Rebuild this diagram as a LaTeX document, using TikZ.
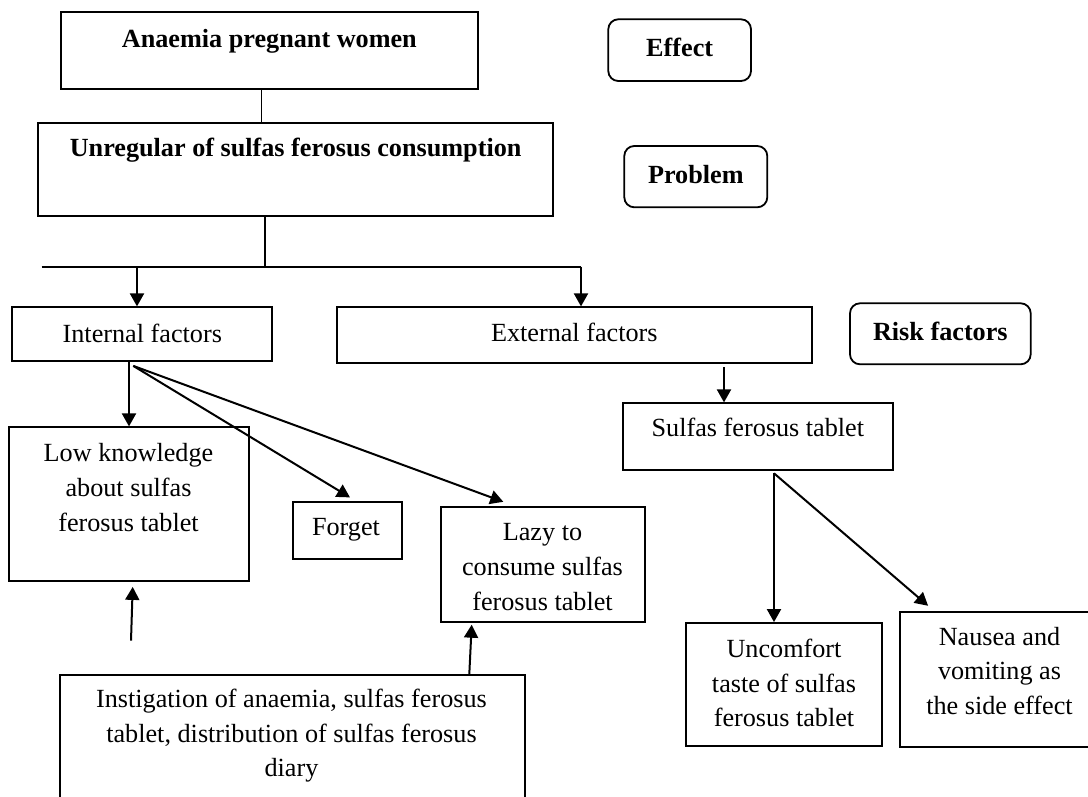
\documentclass[tikz,border=0pt]{standalone}
\usepackage{fontspec}
\setmainfont{Liberation Serif}
\usetikzlibrary{arrows.meta}
\begin{document}
\begin{tikzpicture}[x=1pt,y=-1pt,
  box/.style={draw, line width=1.8pt, inner sep=0pt},
  rbox/.style={box, rounded corners=10pt},
  txt/.style={inner sep=0pt, anchor=base, font=\fontsize{26.2pt}{34.7pt}\selectfont},
  btxt/.style={txt, font=\fontsize{26.2pt}{34.7pt}\selectfont\bfseries},
  link/.style={line width=1.6pt},
  arr/.style={line width=2pt, -{Triangle[length=13pt,width=14pt]}}]
\path[use as bounding box, fill=white] (0,0) rectangle (1088,797);
\clip (0,0) rectangle (1088,797);

% boxes
\node[box, minimum width=416.7pt, minimum height=77.3pt] (anaemia) at (269.35,50.35) {};
\node[box, minimum width=515.3pt, minimum height=93.6pt] (unregular) at (295.65,169.5) {};
\node[rbox, minimum width=142.7pt, minimum height=61.7pt] (effect) at (679.65,50.15) {};
\node[rbox, minimum width=143pt, minimum height=61.3pt] (problem) at (695.8,176.65) {};
\node[box, minimum width=260pt, minimum height=54pt] (internal) at (142.3,334.3) {};
\node[box, minimum width=475.2pt, minimum height=55.4pt] (external) at (574.3,335) {};
\node[rbox, minimum width=180.7pt, minimum height=61pt] (risk) at (940.35,333.8) {};
\node[box, minimum width=240pt, minimum height=153.7pt] (lowk) at (129,504.15) {};
\node[box, minimum width=108.4pt, minimum height=57pt] (forget) at (347.5,530.8) {};
\node[box, minimum width=204pt, minimum height=115.3pt] (lazy) at (543,564.65) {};
\node[box, minimum width=270.3pt, minimum height=66.7pt] (sulfas) at (757.85,436.65) {};
\node[box, minimum width=196.4pt, minimum height=123pt] (uncomf) at (784,684.5) {};
\node[box, minimum width=200pt, minimum height=135pt] (nausea) at (1000,679.2) {};
\node[box, minimum width=464.6pt, minimum height=155pt] (instig) at (292.3,752.5) {};

% texts
\node[btxt] (anaemiaT) at (269.35,47.7) {Anaemia pregnant women};
\node[btxt] (unregularT) at (295.65,156.5) {Unregular of sulfas ferosus consumption};
\node[btxt] (effectT) at (679.65,56.7) {Effect};
\node[btxt] (problemT) at (695.8,183.3) {Problem};
\node[btxt] (riskT) at (940.35,340.7) {Risk factors};
\node[txt] (internalT) at (142.3,342.3) {Internal factors};
\node[txt] (externalT) at (574.3,341) {External factors};
\node[txt] (sulfasT) at (757.85,436.7) {Sulfas ferosus tablet};
\node[txt] (forgetT) at (346,535.9) {Forget};
\node[txt] (lowkT) at (128.5,461.7) {\begin{tabular}[t]{@{}c@{}}Low knowledge\\about sulfas\\ferosus tablet\end{tabular}};
\node[txt] (lazyT) at (542.5,540.7) {\begin{tabular}[t]{@{}c@{}}Lazy to\\consume sulfas\\ferosus tablet\end{tabular}};
\node[txt] (uncomfT) at (784,657.3) {\begin{tabular}[t]{@{}c@{}}Uncomfort\\taste of sulfas\\ferosus tablet\end{tabular}};
\node[txt] (nauseaT) at (999.5,645) {\begin{tabular}[t]{@{}c@{}}Nausea and\\vomiting as\\the side effect\end{tabular}};
\node[txt] (instigT) at (291.5,707.5) {\begin{tabular}[t]{@{}c@{}}Instigation of anaemia, sulfas ferosus\\tablet, distribution of sulfas ferosus\\diary\end{tabular}};

% connectors
\coordinate (l1top) at ([xshift=-7.85pt]anaemia.south);
\draw[link] (l1top) -- (l1top |- unregular.north);
\coordinate (l2top) at ([xshift=-30.65pt]unregular.south);
\coordinate (busL) at (41.7,266.7);
\coordinate (busR) at (581,266.7);
\draw[link] (l2top) -- (l2top |- busL);
\draw[link] (busL) -- (busR);
\coordinate (intin) at ([xshift=-5.3pt]internal.north);
\draw[arr] (intin |- busL) -- (intin);
\draw[arr] (busR) -- (busR |- external.north);
\draw[arr] (internal.south -| lowk.north) -- (lowk.north);
\coordinate (intsrc) at ([xshift=-9pt,yshift=-3.7pt]internal.south);
\draw[arr] (intsrc) -- ([xshift=2.5pt,yshift=4pt]forget.north);
\draw[arr] (intsrc) -- ([xshift=-39.7pt,yshift=4.3pt]lazy.north);
\coordinate (lowfree) at (131,640.7);
\draw[arr] (lowfree) -- ([xshift=3.7pt,yshift=-5pt]lowk.south);
\draw[arr] ([xshift=177pt]instig.north) -- ([xshift=-71.3pt,yshift=-1.5pt]lazy.south);
\coordinate (extsrc) at (724,367.3);
\draw[arr] (extsrc) -- (extsrc |- sulfas.north);
\coordinate (sulsrc) at (774,473.3);
\draw[arr] (sulsrc) -- (sulsrc |- uncomf.north);
\draw[arr] (sulsrc) -- ([xshift=29pt,yshift=5pt]nausea.north west);
\end{tikzpicture}
\end{document}
